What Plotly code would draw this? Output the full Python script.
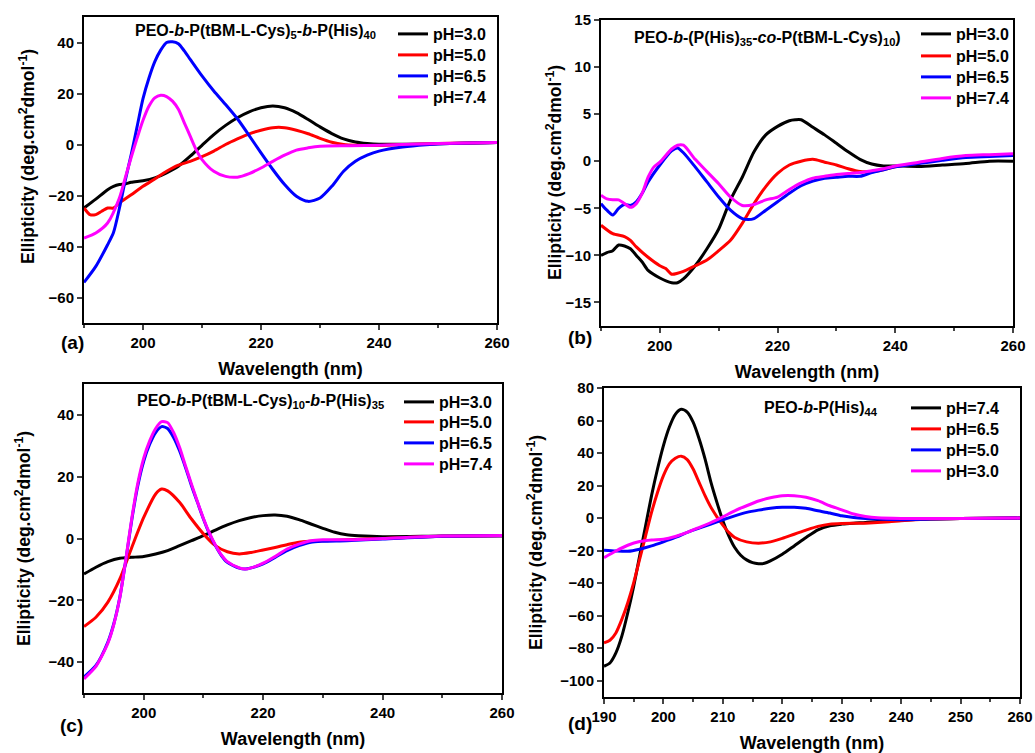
import plotly.graph_objects as go

# ---------------- data ----------------
# Panel (a): PEO-b-P(tBM-L-Cys)5-b-P(His)40
a_wl_30 = [190,192,194,195,196,197,198,200,202,204,206,208,210,212,214,216,218,220,222,224,226,228,230,232,234,236,238,240,250,260]
a_30 = [-24.9,-21.4,-17.7,-16.4,-15.7,-15.5,-14.8,-14.2,-13.1,-11.1,-8.5,-4.6,-0.3,3.9,7.5,10.5,12.8,14.4,15.1,14.4,12.5,9.8,6.9,4.3,2.2,1.0,0.4,0.1,0.3,0.8]
a_wl_50 = [190,191,192,193,194,195,196,198,200,202,204,206,208,210,212,214,216,218,220,222,224,226,228,230,232,234,236,240,245,250,260]
a_50 = [-24.9,-27.5,-27.5,-26.2,-24.9,-24.9,-22.9,-19.7,-16.4,-13.5,-10.5,-8.1,-6.6,-4.8,-2.6,0.0,2.2,4.2,5.6,6.6,6.6,5.6,4.2,2.4,0.9,0.0,-0.3,-0.4,0.0,0.4,0.8]
a_wl_65 = [190,192,194,195,196,197,198,199,200,201,202,203,204,205,206,207,208,210,212,214,216,218,220,222,224,226,228,230,232,234,236,238,240,244,248,252,260]
a_65 = [-54.1,-47.8,-39.3,-34.5,-25.0,-14.0,-4.0,7.0,18.0,26.0,32.5,37.0,40.0,40.3,39.5,36.7,33.4,26.9,21.0,15.7,10.1,3.5,-3.3,-9.8,-15.7,-20.3,-22.3,-21.0,-16.4,-10.5,-6.6,-4.2,-2.6,-1.0,-0.1,0.4,0.8]
a_wl_74 = [190,192,194,196,197,198,199,200,201,202,203,204,205,206,207,208,209,210,212,214,216,218,220,222,224,226,228,230,235,240,250,260]
a_74 = [-36.7,-34.7,-30.8,-21.0,-13.0,-5.0,2.5,9.5,15.0,18.3,19.3,18.8,17.0,13.8,8.5,3.3,-2.0,-5.9,-10.5,-12.5,-12.8,-11.4,-9.2,-6.6,-4.2,-2.2,-1.3,-0.7,-0.5,-0.3,0.4,0.8]

# Panel (b): PEO-b-(P(His)35-co-P(tBM-L-Cys)10)
b_wl_30 = [190,191,192,193,194,195,196,197,198,200,202,203,204,206,208,210,212,214,216,218,220,222,223,224,226,228,230,232,234,236,238,240,244,248,252,256,260]
b_30 = [-10.0,-9.7,-9.5,-8.9,-9.0,-9.3,-10.0,-10.7,-11.6,-12.4,-12.9,-12.9,-12.5,-11.1,-9.3,-7.2,-4.1,-1.7,1.0,2.8,3.7,4.3,4.4,4.4,3.6,2.8,1.9,1.0,0.2,-0.3,-0.5,-0.5,-0.55,-0.4,-0.25,0.0,0.0]
b_wl_50 = [190,192,194,195,196,198,200,201,202,203,204,206,208,210,212,214,216,218,220,222,224,226,228,230,232,234,236,238,240,244,248,252,256,260]
b_50 = [-6.8,-7.7,-8.0,-8.4,-9.1,-10.2,-11.1,-11.4,-12.0,-11.9,-11.7,-11.1,-10.5,-9.5,-8.4,-6.6,-4.5,-2.7,-1.3,-0.4,0.0,0.2,-0.1,-0.4,-0.8,-1.1,-1.1,-0.9,-0.6,-0.2,0.2,0.5,0.6,0.7]
b_wl_65 = [190,191,192,193,194,195,196,197,198,200,202,203,204,206,208,210,212,214,215,216,218,220,222,224,226,228,230,232,234,236,238,240,244,248,252,256,260]
b_65 = [-4.5,-5.2,-5.7,-5.0,-4.6,-4.7,-4.3,-3.4,-2.2,-0.4,1.1,1.4,0.9,-0.6,-2.2,-3.8,-5.2,-6.1,-6.2,-6.1,-5.2,-4.3,-3.4,-2.6,-2.1,-1.8,-1.7,-1.6,-1.6,-1.2,-0.9,-0.6,-0.25,0.1,0.4,0.5,0.6]
b_wl_74 = [190,191,192,193,194,195,196,197,198,199,200,202,203,204,206,208,210,212,214,216,218,220,222,224,226,228,230,232,234,236,238,240,244,248,252,256,260]
b_74 = [-3.6,-4.0,-4.1,-4.1,-4.5,-4.9,-4.5,-3.4,-1.7,-0.6,-0.1,1.3,1.7,1.7,0.2,-1.1,-2.4,-3.8,-4.7,-4.6,-4.1,-3.8,-3.0,-2.3,-1.8,-1.6,-1.4,-1.3,-1.2,-1.0,-0.8,-0.5,-0.1,0.3,0.6,0.7,0.8]

# Panel (c): PEO-b-P(tBM-L-Cys)10-b-P(His)35
c_wl_30 = [190,192,194,196,198,200,202,204,206,208,210,212,214,216,218,220,222,224,226,228,230,232,234,236,240,250,260]
c_30 = [-11.5,-9.3,-7.5,-6.4,-6.1,-5.8,-5.0,-3.9,-2.3,-0.7,0.9,2.7,4.4,5.8,6.8,7.4,7.6,7.2,6.1,4.7,3.3,2.0,1.2,0.9,0.6,0.8,0.9]
c_wl_50 = [190,192,194,196,198,200,202,203,204,206,208,210,212,214,216,218,220,222,224,226,228,230,234,240,250,260]
c_50 = [-28.5,-25.5,-20.6,-13.1,-2.9,6.8,14.4,16.0,15.4,11.7,6.3,1.5,-2.3,-4.3,-5.0,-4.5,-3.7,-2.9,-2.0,-1.2,-0.9,-0.7,-0.4,0.0,0.7,0.9]
c_wl_65 = [190,192,194,195,196,197,198,199,200,201,202,203,204,205,206,207,208,209,210,211,212,213,214,216,217,218,220,222,224,226,228,230,234,240,250,260]
c_65 = [-44.8,-41.1,-33.5,-27.5,-19.0,-7.0,6.0,17.0,25.0,30.5,34.3,36.2,35.6,32.7,28.4,23.0,17.1,11.7,6.3,1.5,-2.3,-5.5,-7.7,-9.6,-9.9,-9.5,-8.2,-6.1,-3.9,-2.3,-1.2,-0.9,-0.7,-0.2,0.7,0.9]
c_wl_74 = [190,192,194,195,196,197,198,199,200,201,202,203,204,205,206,207,208,209,210,211,212,213,214,216,217,218,220,222,224,226,228,230,234,240,250,260]
c_74 = [-45.4,-41.4,-33.9,-27.8,-19.2,-6.8,6.5,17.8,26.0,31.6,35.6,37.8,37.5,34.3,29.5,23.5,17.6,11.9,6.5,1.8,-2.1,-5.3,-7.5,-9.5,-9.9,-9.5,-8.0,-5.8,-3.4,-1.8,-0.7,-0.4,-0.4,0.0,0.8,1.0]

# Panel (d): PEO-b-P(His)44
d_wl_74 = [190,191,192,193,194,195,196,197,198,199,200,201,202,203,204,205,206,207,208,209,210,211,212,213,214,215,216,217,218,220,222,224,226,228,230,232,234,236,240,245,250,260]
d_74 = [-91.1,-89.1,-82.9,-72.6,-58.2,-41.8,-23.2,-4.7,13.8,30.2,44.6,56.0,63.8,66.9,65.2,59.0,48.8,36.4,22.0,9.7,-1.6,-10.9,-18.1,-22.8,-25.7,-27.4,-28.0,-27.8,-26.3,-22.2,-17.1,-11.9,-7.2,-4.7,-3.7,-3.1,-2.7,-2.1,-1.2,-0.6,-0.2,0.0]
d_wl_65 = [190,191,192,193,194,195,196,197,198,199,200,201,202,203,204,205,206,207,208,209,210,211,212,214,216,218,220,222,224,226,228,230,234,238,240,245,250,260]
d_65 = [-76.7,-75.1,-70.6,-62.3,-52.0,-39.7,-25.3,-10.9,3.5,15.8,26.1,33.3,36.8,38.1,36.0,30.2,22.0,13.8,6.6,0.8,-4.3,-8.8,-11.9,-14.6,-15.4,-14.6,-12.5,-9.9,-7.4,-5.1,-3.7,-3.3,-3.1,-2.3,-1.6,-0.6,-0.2,0.0]
d_wl_50 = [190,192,194,196,198,200,202,204,206,208,210,212,214,216,218,220,222,224,226,228,230,232,234,236,240,245,250,260]
d_50 = [-19.7,-20.2,-20.4,-19.1,-17.1,-14.6,-11.9,-8.8,-6.2,-3.7,-1.0,1.4,3.5,4.9,6.0,6.6,6.6,6.0,4.5,3.1,1.4,0.4,-0.2,-0.6,-1.0,-0.6,-0.2,0.0]
d_wl_30 = [190,192,194,196,198,200,202,204,206,208,210,212,214,216,218,220,222,224,226,228,230,232,234,236,240,250,260]
d_30 = [-24.3,-20.2,-16.7,-14.4,-13.4,-13.0,-11.3,-8.8,-5.8,-2.7,0.8,4.5,7.6,10.5,12.5,13.8,13.8,12.8,10.7,7.6,5.1,2.5,1.0,0.2,-0.2,-0.2,0.0]

panel_titles = [
    "PEO-<i>b</i>-P(tBM-L-Cys)<sub>5</sub>-<i>b</i>-P(His)<sub>40</sub>",
    "PEO-<i>b</i>-(P(His)<sub>35</sub>-<i>co</i>-P(tBM-L-Cys)<sub>10</sub>)",
    "PEO-<i>b</i>-P(tBM-L-Cys)<sub>10</sub>-<i>b</i>-P(His)<sub>35</sub>",
    "PEO-<i>b</i>-P(His)<sub>44</sub>",
]
panel_letters = ["(a)", "(b)", "(c)", "(d)"]
x_title = "Wavelength (nm)"
y_title = "Ellipticity (deg.cm<sup>2</sup>dmol<sup>-1</sup>)"

y_ticks_a = [-60, -40, -20, 0, 20, 40]
y_ticks_b = [-15, -10, -5, 0, 5, 10, 15]
y_ticks_c = [-40, -20, 0, 20, 40]
y_ticks_d = [-100, -80, -60, -40, -20, 0, 20, 40, 60, 80]
x_ticks_abc = [200, 220, 240, 260]
x_ticks_d = [190, 200, 210, 220, 230, 240, 250, 260]

panels = [
    [("pH=3.0", a_wl_30, a_30, "black"), ("pH=5.0", a_wl_50, a_50, "red"),
     ("pH=6.5", a_wl_65, a_65, "blue"), ("pH=7.4", a_wl_74, a_74, "magenta")],
    [("pH=3.0", b_wl_30, b_30, "black"), ("pH=5.0", b_wl_50, b_50, "red"),
     ("pH=6.5", b_wl_65, b_65, "blue"), ("pH=7.4", b_wl_74, b_74, "magenta")],
    [("pH=3.0", c_wl_30, c_30, "black"), ("pH=5.0", c_wl_50, c_50, "red"),
     ("pH=6.5", c_wl_65, c_65, "blue"), ("pH=7.4", c_wl_74, c_74, "magenta")],
    [("pH=7.4", d_wl_74, d_74, "black"), ("pH=6.5", d_wl_65, d_65, "red"),
     ("pH=5.0", d_wl_50, d_50, "blue"), ("pH=3.0", d_wl_30, d_30, "magenta")],
]

# ---------------- layout geometry (pixels of 1035x753 canvas) ----------------
W, H = 1035, 753
FONT = "Liberation Sans, Arial, sans-serif"
# plot boxes: left, right, top, bottom
boxes = [(84, 497, 17, 323), (601, 1013, 20, 326), (84, 502, 384, 693), (604, 1020, 388, 697)]
yranges = [[-70, 50], [-17.5, 15], [-50, 50], [-110, 80]]
yticks = [y_ticks_a, y_ticks_b, y_ticks_c, y_ticks_d]
xticks = [x_ticks_abc, x_ticks_abc, x_ticks_abc, x_ticks_d]
xminor = [10, 10, 10, 5]
title_pos = [(133, 32), (632, 39), (135, 401), (762, 408)]
letter_pos = [(72, 342), (580, 337), (71, 725), (580, 723)]
ytitle_pos = [(27, 157), (554, 173), (23, 539), (535, 543)]
legend_x = [393, 916, 399, 906]
legend_rows = [[34, 55, 76, 97], [34, 56, 77, 98], [402, 422, 443, 464], [408, 429, 450, 471]]

def px(x):
    return x / W

def py(y):
    return 1 - y / H

fig = go.Figure()
layout = dict(
    width=W, height=H, margin=dict(l=0, r=0, t=0, b=0, autoexpand=False),
    paper_bgcolor="white", plot_bgcolor="white", showlegend=True,
    font=dict(family=FONT, color="black", size=15),
    annotations=[],
)

k = 0
for i, series in enumerate(panels):
    n = "" if i == 0 else str(i + 1)
    for j, (name, xs, ys, col) in enumerate(series):
        k += 1
        leg = "legend" if k == 1 else "legend" + str(k)
        fig.add_trace(go.Scatter(
            x=xs, y=ys, name=name, mode="lines", showlegend=True,
            line=dict(color=col, width=3, shape="spline", smoothing=0.7),
            xaxis="x" + n, yaxis="y" + n, legend=leg,
        ))
        layout[leg] = dict(
            x=px(legend_x[i]), y=py(legend_rows[i][j]), xanchor="left", yanchor="middle",
            bgcolor="rgba(0,0,0,0)", borderwidth=0, visible=True,
            font=dict(family=FONT, size=16, color="black", weight="bold"),
            itemwidth=30,
        )
    l, r, t, b = boxes[i]
    layout["xaxis" + n] = dict(
        domain=[px(l), px(r)], anchor="y" + n, range=[190, 260], automargin=False,
        tickvals=xticks[i], ticks="outside", ticklen=5, tickwidth=2,
        minor=dict(dtick=xminor[i], tick0=190, ticks="outside", ticklen=3, tickwidth=2),
        showline=True, linewidth=2, linecolor="black", mirror=True,
        showgrid=False, zeroline=False,
        tickfont=dict(family=FONT, size=15, color="black", weight="bold"),
        title=dict(text=x_title, standoff=12,
                   font=dict(family=FONT, size=18, color="black", weight="bold")),
    )
    layout["yaxis" + n] = dict(
        domain=[py(b), py(t)], anchor="x" + n, range=yranges[i], automargin=False,
        tickvals=yticks[i], ticks="outside", ticklen=5, tickwidth=2,
        showline=True, linewidth=2, linecolor="black", mirror=True,
        showgrid=False, zeroline=False,
        tickfont=dict(family=FONT, size=15, color="black", weight="bold"),
    )
    yx, yy = ytitle_pos[i]
    layout["annotations"].append(dict(
        text="<b>" + y_title + "</b>", x=px(yx), y=py(yy), textangle=-90,
        xref="paper", yref="paper", xanchor="center", yanchor="middle",
        showarrow=False, font=dict(family=FONT, size=17.5, color="black"),
    ))
    tx, ty = title_pos[i]
    layout["annotations"].append(dict(
        text="<b>" + panel_titles[i] + "</b>", x=px(tx), y=py(ty),
        xref="paper", yref="paper", xanchor="left", yanchor="middle",
        showarrow=False, font=dict(family=FONT, size=16, color="black"),
    ))
    cx, cy = letter_pos[i]
    layout["annotations"].append(dict(
        text="<b>" + panel_letters[i] + "</b>", x=px(cx), y=py(cy),
        xref="paper", yref="paper", xanchor="center", yanchor="middle",
        showarrow=False, font=dict(family=FONT, size=19, color="black"),
    ))

fig.update_layout(**layout)
fig.write_html(
    "out.html",
    config={"displayModeBar": False},
    post_script="document.body.style.margin='0';document.body.style.overflow='hidden';",
)
